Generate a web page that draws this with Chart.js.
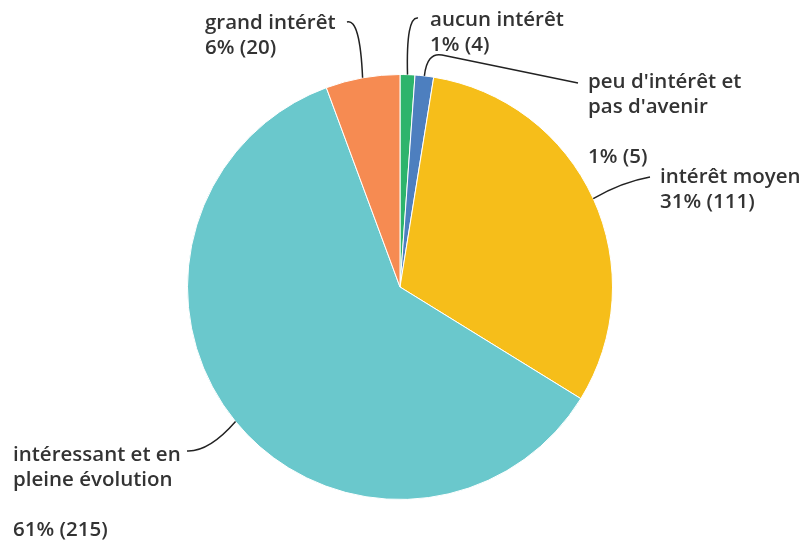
<!DOCTYPE html>
<html>
<head>
<meta charset="utf-8">
<script src="https://cdn.jsdelivr.net/npm/chart.js@4.4.0/dist/chart.umd.min.js"></script>
<style>
  html,body{margin:0;padding:0;background:#fff;}
  #wrap{width:804px;height:542px;position:relative;}
</style>
</head>
<body>
<div id="wrap"><canvas id="c" width="804" height="542"></canvas></div>
<script>
// data
var categories = ["aucun intérêt", "peu d'intérêt et pas d'avenir", "intérêt moyen", "intéressant et en pleine évolution", "grand intérêt"];
var counts = [4, 5, 111, 215, 20];
var sliceColors = ["#2db46c", "#4d7fbf", "#f6be1a", "#6ac8cc", "#f68b52"];

// label layout: text lines ("%" = value line, "" = blank line), anchor and leader end
var labelLayout = [
  {x: 430, y: 20, lines: ["aucun intérêt", "%"], end: [418, 18], ctrl: [406, 16]},
  {x: 588, y: 82, lines: ["peu d'intérêt et", "pas d'avenir", "", "%"], end: [578, 83], ctrl: [427, 52], via: [442, 55]},
  {x: 660, y: 177, lines: ["intérêt moyen", "%"], end: [650, 177], ctrl: [622, 182]},
  {x: 13, y: 455, lines: ["intéressant et en", "pleine évolution", "", "%"], end: [187, 451], ctrl: [209, 452]},
  {x: 205, y: 23, lines: ["grand intérêt", "%"], end: [347, 22], ctrl: [360, 18]}
];
var total = counts.reduce(function(a,b){return a+b}, 0);

var labelPlugin = {
  id: 'labelPlugin',
  afterDraw: function(chart){
    var ctx = chart.ctx;
    var meta = chart.getDatasetMeta(0);
    ctx.save();
    meta.data.forEach(function(arc, i){
      var L = labelLayout[i];
      var mid = (arc.startAngle + arc.endAngle)/2;
      var sx = arc.x + Math.cos(mid)*arc.outerRadius;
      var sy = arc.y + Math.sin(mid)*arc.outerRadius;
      ctx.strokeStyle = '#222';
      ctx.lineWidth = 1.5;
      ctx.beginPath();
      ctx.moveTo(sx, sy);
      if (L.via){
        ctx.quadraticCurveTo(L.ctrl[0], L.ctrl[1], L.via[0], L.via[1]);
        ctx.lineTo(L.end[0], L.end[1]);
      } else {
        ctx.quadraticCurveTo(L.ctrl[0], L.ctrl[1], L.end[0], L.end[1]);
      }
      ctx.stroke();

      ctx.fillStyle = '#333';
      ctx.font = '600 20.5px "Open Sans", sans-serif';
      ctx.textBaseline = 'middle';
      ctx.textAlign = 'left';
      var pct = Math.round(counts[i]/total*100) + '% (' + counts[i] + ')';
      L.lines.forEach(function(t, k){
        if (t === '') return;
        var txt = t === '%' ? pct : t;
        ctx.fillText(txt, L.x, L.y + k*25);
      });
    });
    ctx.restore();
  }
};

new Chart(document.getElementById('c'), {
  type: 'pie',
  data: {
    labels: categories,
    datasets: [{
      data: counts,
      backgroundColor: sliceColors,
      borderColor: '#fff',
      borderWidth: 1
    }]
  },
  options: {
    responsive: false,
    animation: false,
    layout: {padding: {top: 74, bottom: 42, left: 0, right: 4}},
    plugins: {legend: {display: false}, tooltip: {enabled: false}}
  },
  plugins: [labelPlugin]
});
</script>
</body>
</html>
